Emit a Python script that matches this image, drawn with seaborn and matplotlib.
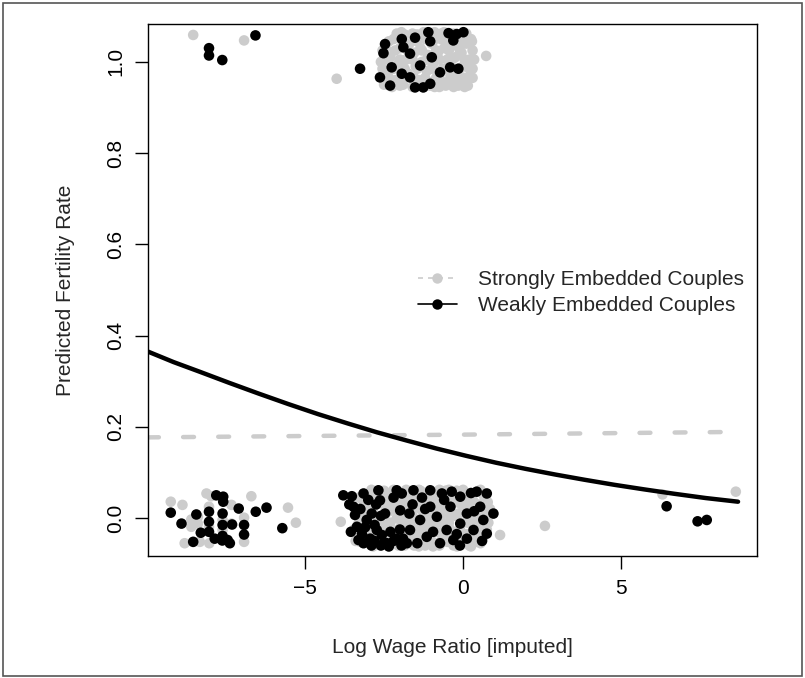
#!/usr/bin/env python3
"""
Predicted fertility rate vs log wage ratio, jittered observations plus fitted curves.
"""

import pandas as pd

import matplotlib
matplotlib.use("Agg")
import matplotlib.pyplot as plt
from matplotlib.lines import Line2D
from matplotlib.patches import Rectangle
import seaborn as sns

# jittered observations (x = log wage ratio, y = birth 0/1 plus jitter)
strong_births = [
    (-8.54, 1.059), (-6.93, 1.047), (-4.00, 0.963), (0.73, 1.013),
    (-2.60, 1.000), (-2.45, 1.030), (-2.40, 0.975), (-2.30, 1.010), (-2.20, 1.050),
    (-2.15, 0.960), (-2.05, 0.995), (-2.00, 1.030), (-1.90, 0.950), (-1.85, 1.060),
    (-1.80, 1.005), (-1.75, 0.975), (-1.70, 1.040), (-1.60, 0.945), (-1.55, 1.020),
    (-1.50, 0.990), (-1.45, 1.060), (-1.40, 0.960), (-1.35, 1.030), (-1.30, 1.000),
    (-1.25, 0.945), (-1.20, 1.050), (-1.15, 0.980), (-1.10, 1.015), (-1.05, 0.955),
    (-1.00, 1.040), (-0.95, 0.995), (-0.90, 1.065), (-0.85, 0.965), (-0.80, 1.020),
    (-0.75, 0.945), (-0.70, 1.050), (-0.65, 0.985), (-0.60, 1.030), (-0.55, 0.955),
    (-0.50, 1.005), (-0.45, 1.060), (-0.40, 0.970), (-0.35, 1.035), (-0.30, 0.945),
    (-0.25, 1.010), (-0.20, 0.980), (-0.15, 1.045), (-0.10, 0.960), (-0.05, 1.020),
    (0.00, 0.990), (0.10, 1.040), (0.15, 0.965), (0.20, 1.005), (0.25, 1.050),
    (0.30, 0.985), (-2.50, 0.950), (-1.95, 1.065), (-0.60, 1.065), (-1.25, 1.065),
    (-2.25, 0.945), (0.05, 0.945), (-0.90, 0.945),
    (-2.10, 1.062), (-1.60, 1.062), (-1.05, 1.062), (-0.70, 1.062), (-0.30, 1.062),
    (0.10, 1.062), (-2.35, 1.045), (-1.90, 1.045), (-1.45, 1.045), (-0.95, 1.045),
    (-0.55, 1.045), (-0.05, 1.045), (0.28, 1.045), (-2.55, 1.025), (-2.15, 1.025),
    (-1.75, 1.025), (-1.30, 1.025), (-0.85, 1.025), (-0.45, 1.025), (-0.10, 1.025),
    (0.30, 1.025), (-2.40, 1.005), (-2.00, 1.005), (-1.60, 1.005), (-1.15, 1.005),
    (-0.75, 1.005), (-0.35, 1.005), (0.05, 1.005), (0.35, 1.005), (-2.55, 0.985),
    (-2.20, 0.985), (-1.85, 0.985), (-1.45, 0.985), (-1.00, 0.985), (-0.55, 0.985),
    (-0.10, 0.985), (0.20, 0.985), (-2.35, 0.965), (-1.95, 0.965), (-1.55, 0.965),
    (-1.20, 0.965), (-0.75, 0.965), (-0.35, 0.965), (0.05, 0.965), (0.30, 0.965),
    (-2.00, 0.948), (-1.45, 0.948), (-1.05, 0.948), (-0.55, 0.948), (-0.15, 0.948),
    (0.15, 0.948),
]
strong_none = [
    # left group
    (-9.25, 0.036), (-8.88, 0.029), (-8.60, -0.003), (-8.39, 0.003), (-8.12, 0.054),
    (-7.97, 0.048), (-7.33, 0.029), (-6.70, 0.048), (-5.54, 0.023), (-5.29, -0.010),
    (-8.04, 0.025), (-8.04, -0.019), (-7.61, -0.004), (-7.61, -0.026), (-7.33, -0.012),
    (-6.93, 0.001), (-6.93, -0.052), (-8.81, -0.055), (-8.33, -0.052), (-8.03, -0.055),
    (-8.60, -0.019), (-8.39, -0.012),
    # main group
    (-3.30, 0.045), (-3.10, -0.030), (-2.95, 0.020), (-2.85, -0.055), (-2.80, 0.050),
    (-2.70, 0.000), (-2.60, -0.020), (-2.55, 0.035), (-2.45, -0.045), (-2.40, 0.055),
    (-2.35, 0.015), (-2.30, -0.010), (-2.20, 0.040), (-2.15, -0.035), (-2.10, 0.000),
    (-2.05, -0.060), (-2.00, 0.025), (-1.95, -0.015), (-1.90, 0.050), (-1.85, 0.005),
    (-1.80, -0.040), (-1.75, 0.030), (-1.70, -0.055), (-1.65, 0.015), (-1.60, -0.020),
    (-1.55, 0.045), (-1.50, -0.005), (-1.45, -0.045), (-1.40, 0.030), (-1.35, 0.060),
    (-1.30, -0.030), (-1.25, 0.010), (-1.20, -0.060), (-1.15, 0.040), (-1.10, -0.015),
    (-1.05, 0.020), (-1.00, -0.050), (-0.95, 0.055), (-0.90, 0.000), (-0.85, -0.030),
    (-0.80, 0.035), (-0.75, -0.060), (-0.70, 0.015), (-0.65, -0.010), (-0.60, 0.050),
    (-0.55, -0.040), (-0.50, 0.025), (-0.45, -0.020), (-0.40, 0.005), (-0.35, -0.055),
    (-0.30, 0.040), (-0.25, -0.030), (-0.20, 0.060), (-0.15, 0.010), (-0.10, -0.045),
    (-0.05, 0.030), (0.00, -0.010), (0.05, 0.050), (0.10, -0.035), (0.15, 0.020),
    (0.20, -0.060), (0.25, 0.040), (0.30, -0.015), (0.35, 0.055), (0.40, 0.000),
    (0.45, -0.040), (0.55, 0.030), (0.60, -0.020), (0.70, 0.045), (0.80, -0.010),
    (-3.87, -0.008), (1.17, -0.037), (-1.55, -0.060), (-0.80, -0.055), (-1.20, 0.055),
    (-2.25, -0.055), (-0.30, -0.060), (0.10, 0.030), (-1.00, 0.005), (-1.70, 0.040),
    (-0.55, 0.060), (-2.50, 0.060), (-3.40, -0.050), (-3.20, 0.000), (-2.90, -0.035),
    (-1.85, -0.060), (-0.15, 0.045), (0.55, -0.055), (0.65, 0.010), (-1.40, -0.035),
    (-0.65, 0.025),
    (-2.90, 0.062), (-2.20, 0.062), (-1.80, 0.062), (-1.40, 0.062), (-0.75, 0.062),
    (-0.45, 0.062), (0.00, 0.062), (0.55, 0.062), (-3.00, 0.050), (-2.55, 0.050),
    (-2.10, 0.050), (-1.65, 0.050), (-1.25, 0.050), (-0.85, 0.050), (-0.40, 0.050),
    (0.20, 0.050), (0.65, 0.050), (-3.15, 0.035), (-2.75, 0.035), (-2.30, 0.035),
    (-1.95, 0.035), (-1.50, 0.035), (-1.05, 0.035), (-0.60, 0.035), (-0.20, 0.035),
    (0.35, 0.035), (0.78, 0.035), (-3.35, 0.020), (-2.85, 0.020), (-2.45, 0.020),
    (-2.15, 0.020), (-1.80, 0.020), (-1.35, 0.020), (-0.95, 0.020), (-0.45, 0.020),
    (0.05, 0.020), (0.45, 0.020), (0.85, 0.020), (-3.05, 0.005), (-2.55, 0.005),
    (-2.00, 0.005), (-1.60, 0.005), (-1.15, 0.005), (-0.70, 0.005), (-0.25, 0.005),
    (0.25, 0.005), (0.70, 0.005), (-3.30, -0.010), (-2.85, -0.010), (-2.40, -0.010),
    (-1.75, -0.010), (-1.35, -0.010), (-0.85, -0.010), (-0.45, -0.010), (0.15, -0.010),
    (0.50, -0.010), (-3.45, -0.025), (-2.95, -0.025), (-2.55, -0.025), (-2.05, -0.025),
    (-1.50, -0.025), (-1.05, -0.025), (-0.60, -0.025), (-0.10, -0.025), (0.40, -0.025),
    (0.75, -0.025), (-3.05, -0.040), (-2.70, -0.040), (-2.35, -0.040), (-1.95, -0.040),
    (-1.55, -0.040), (-1.20, -0.040), (-0.65, -0.040), (-0.25, -0.040), (0.30, -0.040),
    (0.65, -0.040), (-3.25, -0.052), (-2.65, -0.052), (-2.10, -0.052), (-1.60, -0.052),
    (-1.10, -0.052), (-0.50, -0.052), (0.00, -0.052), (0.40, -0.052), (-2.85, -0.062),
    (-2.35, -0.062), (-1.40, -0.062), (-0.95, -0.062), (-0.20, -0.062), (0.25, -0.062),
    # right tail
    (2.59, -0.017), (6.31, 0.052), (8.63, 0.058),
]
weak_births = [
    (-8.04, 1.030), (-8.04, 1.014), (-7.62, 1.004), (-6.57, 1.058), (-3.26, 0.985),
    (-2.47, 1.039), (-2.52, 1.019), (-1.94, 1.050), (-1.89, 1.032), (-1.52, 1.053),
    (-1.10, 1.065), (-1.04, 1.045), (-0.99, 1.010), (-1.36, 0.992), (-1.68, 1.018),
    (-0.46, 1.063), (-0.20, 1.061), (0.01, 1.065), (-0.31, 1.047), (-0.41, 0.988),
    (-0.15, 0.985), (-2.26, 0.988), (-2.63, 0.966), (-2.31, 0.948), (-1.68, 0.966),
    (-1.52, 0.944), (-1.26, 0.944), (-1.04, 0.952), (-0.73, 0.977), (-1.94, 0.974),
]
weak_none = [
    # left group
    (-9.25, 0.012), (-8.91, -0.012), (-8.44, 0.008), (-7.81, 0.050), (-7.59, 0.047),
    (-7.59, 0.036), (-7.10, 0.021), (-6.56, 0.014), (-6.22, 0.023), (-5.72, -0.022),
    (-8.04, 0.014), (-8.04, -0.008), (-8.04, -0.030), (-7.61, 0.010), (-7.61, -0.015),
    (-7.61, -0.039), (-7.62, -0.049), (-7.38, -0.055), (-7.45, -0.048), (-7.31, -0.014),
    (-6.93, -0.015), (-6.93, -0.036), (-8.54, -0.052), (-8.30, -0.032), (-7.86, -0.045),
    # main group
    (-3.79, 0.050), (-3.52, 0.048), (-3.15, 0.054), (-2.68, 0.061), (-2.10, 0.061),
    (-1.94, 0.054), (-1.57, 0.061), (-1.04, 0.061), (-0.67, 0.054), (-0.36, 0.058),
    (-0.09, 0.047), (0.43, 0.058), (0.75, 0.054), (0.96, 0.010), (-3.47, 0.025),
    (-3.42, 0.007), (-3.36, -0.019), (-3.05, -0.004), (-2.89, 0.010), (-2.94, -0.045),
    (-3.31, -0.048), (-3.15, -0.055), (-2.73, -0.026), (-2.57, -0.037), (-2.41, -0.055),
    (-2.10, -0.045), (-1.78, -0.055), (-1.68, -0.026), (-1.36, -0.004), (-1.15, -0.041),
    (-0.83, 0.003), (-0.52, -0.026), (-0.31, -0.048), (-0.09, -0.012), (0.12, 0.010),
    (0.33, -0.026), (0.54, 0.025), (0.64, -0.004), (-1.99, 0.017), (-2.47, 0.010),
    (-2.63, 0.039), (-1.04, 0.025), (-0.73, -0.055), (0.12, -0.045), (0.75, -0.034),
    (-3.20, -0.035), (-2.90, -0.060), (-2.75, 0.030), (-2.50, -0.055), (-2.30, -0.030),
    (-2.20, 0.045), (-1.90, -0.045), (-1.60, 0.030), (-1.30, 0.045), (-0.40, 0.025),
    (0.25, 0.055), (-0.10, -0.060),
    (-3.60, 0.030), (-3.55, -0.030), (-3.25, 0.020), (-3.00, 0.040), (-2.80, -0.015),
    (-2.60, 0.005), (-2.35, -0.062), (-2.00, -0.025), (-1.70, 0.010), (-1.45, -0.055),
    (-1.20, 0.020), (-0.95, -0.030), (-0.60, 0.040), (-0.20, -0.035), (0.35, 0.015),
    (0.60, -0.050), (-2.80, -0.050), (-2.60, -0.060), (-2.20, -0.050), (-1.95, -0.060),
    (-3.10, -0.020),
    # right tail
    (6.44, 0.026), (7.42, -0.007), (7.71, -0.004),
]

# predicted curves
weak_curve_x = [-9.97, -9.16, -8.34, -7.40, -6.47, -5.53, -4.59, -3.65, -2.72, -1.78,
                -0.84, 0.10, 1.04, 1.98, 2.92, 3.85, 4.79, 5.73, 6.67, 7.68, 8.70]
weak_curve_y = [0.365, 0.342, 0.321, 0.2965, 0.273, 0.250, 0.228, 0.2075, 0.188, 0.170,
                0.1525, 0.1365, 0.1215, 0.108, 0.0955, 0.084, 0.073, 0.063, 0.0535,
                0.044, 0.036]
strong_curve_x = [-9.97, 0.0, 8.70]
strong_curve_y = [0.177, 0.183, 0.189]

GREY = "#cccccc"
labels = ["Strongly Embedded Couples", "Weakly Embedded Couples"]


def main() -> int:
    sns.set_style("white")
    plt.rcParams["font.family"] = ["Liberation Sans", "DejaVu Sans"]

    rows = []
    for grp, pts in [("strong", strong_births), ("strong", strong_none),
                     ("weak", weak_births), ("weak", weak_none)]:
        rows += [{"x": x, "y": y, "group": grp} for x, y in pts]
    df = pd.DataFrame(rows)

    fig = plt.figure(figsize=(8.05, 6.78), dpi=100)
    ax = fig.add_axes([148 / 805, 1 - 556 / 678, 609 / 805, 532 / 678])

    sns.scatterplot(data=df, x="x", y="y", hue="group",
                    palette={"strong": GREY, "weak": "black"},
                    s=58, linewidth=0, legend=False, ax=ax)

    sns.lineplot(x=strong_curve_x, y=strong_curve_y, color=GREY, lw=3.2, ax=ax)
    dashed = ax.lines[-1]
    dashed.set_dashes([2.45, 5.45])
    dashed.set_dash_capstyle("round")
    sns.lineplot(x=weak_curve_x, y=weak_curve_y, color="black", lw=3.2, ax=ax)

    ax.set_xlim(-9.97, 9.3)
    ax.set_ylim(-0.083, 1.083)
    ax.set_xticks([-5, 0, 5])
    ax.set_yticks([0.0, 0.2, 0.4, 0.6, 0.8, 1.0])
    ax.set_yticklabels(["0.0", "0.2", "0.4", "0.6", "0.8", "1.0"])
    ax.tick_params(direction="out", length=9.4, width=1, pad=7, labelsize=15,
                   colors="black", left=True, bottom=True)
    ax.tick_params(axis="y", labelrotation=90)
    for t in ax.get_yticklabels():
        t.set_va("center")
    for sp in ax.spines.values():
        sp.set_visible(True)
        sp.set_color("black")
        sp.set_linewidth(1.0)

    ax.set_xlabel("Log Wage Ratio [imputed]", fontsize=15)
    ax.set_ylabel("Predicted Fertility Rate", fontsize=15)
    ax.xaxis.set_label_coords(0.5, -0.155)
    ax.yaxis.set_label_coords(-0.120, 0.5)

    handles = [
        Line2D([], [], color=GREY, lw=1.2, linestyle=(0, (3, 3)),
               marker="o", markersize=7.5, markeredgewidth=0),
        Line2D([], [], color="black", lw=1.2,
               marker="o", markersize=7.5, markeredgewidth=0),
    ]
    ax.legend(handles, labels, loc="center left", bbox_to_anchor=(0.443, 0.495),
              frameon=False, fontsize=15, handlelength=1.86, handletextpad=1.05,
              labelspacing=0.35, borderpad=0, borderaxespad=0)

    fig.add_artist(Rectangle((3 / 805, 2 / 678), 799 / 805, 673 / 678,
                             transform=fig.transFigure, fill=False,
                             edgecolor="#555555", lw=1.2))

    fig.savefig("out.png", dpi=100)
    return 0


if __name__ == "__main__":
    raise SystemExit(main())
